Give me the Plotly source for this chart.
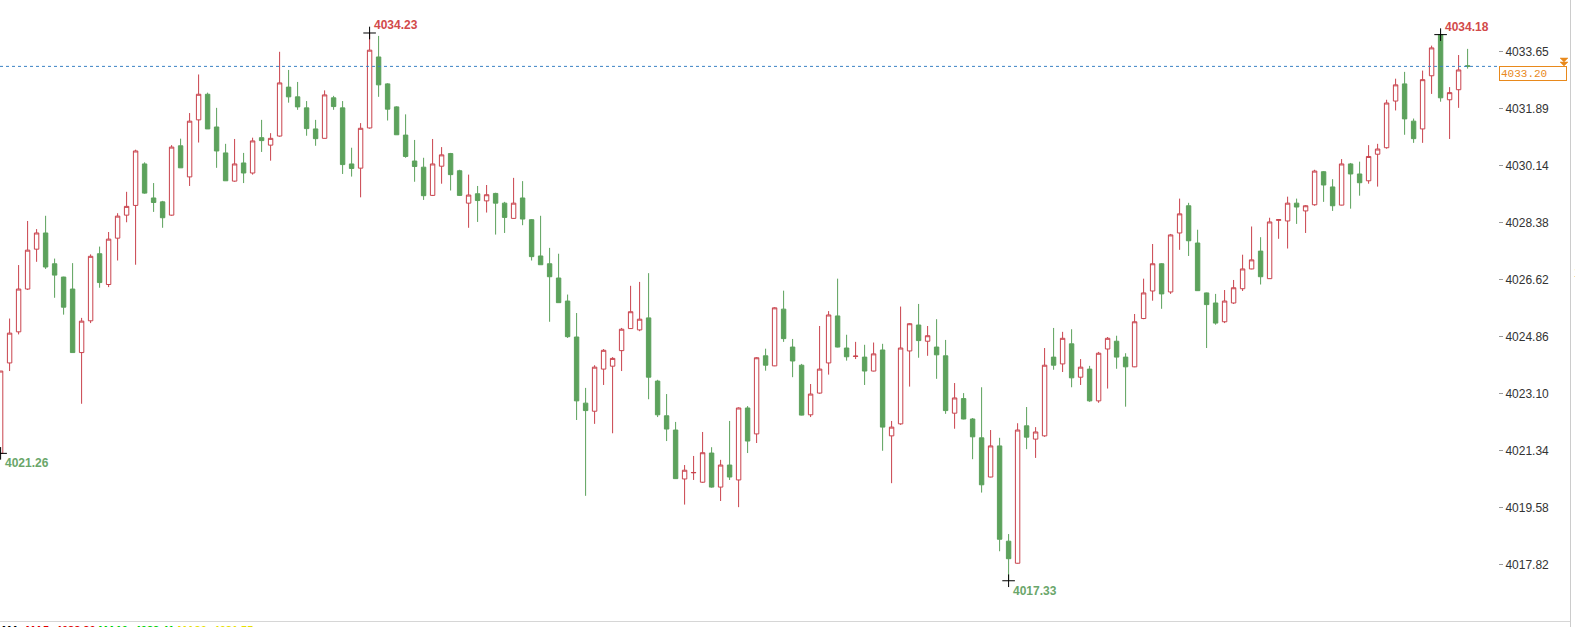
import plotly.graph_objects as go

# ---------------- data ----------------
opens = [4021.26, 4024.05, 4025.01, 4026.33, 4027.56, 4028.06, 4027.11, 4026.70, 4026.33, 4024.37,
         4025.35, 4027.42, 4026.47, 4027.90, 4028.61, 4028.91, 4030.19, 4029.14, 4029.02, 4028.61,
         4030.75, 4029.79, 4031.55, 4032.34, 4031.33, 4030.53, 4029.66, 4030.22, 4029.91, 4031.00,
         4030.77, 4031.05, 4032.56, 4032.26, 4031.92, 4031.27, 4030.98, 4032.23, 4031.92, 4030.19,
         4030.06, 4031.30, 4033.49, 4032.66, 4031.95, 4031.08, 4030.28, 4030.09, 4029.22, 4030.12,
         4030.51, 4029.98, 4028.98, 4029.27, 4029.05, 4029.28, 4028.98, 4028.51, 4029.14, 4028.47,
         4027.35, 4027.11, 4026.67, 4025.96, 4024.85, 4022.81, 4022.56, 4023.86, 4023.95, 4024.43,
         4025.11, 4025.07, 4025.44, 4023.49, 4022.42, 4021.98, 4020.47, 4020.66, 4020.37, 4021.27,
         4020.22, 4020.90, 4020.44, 4022.66, 4021.86, 4024.27, 4023.96, 4025.71, 4024.54, 4023.98,
         4022.45, 4023.12, 4024.05, 4025.50, 4024.51, 4024.25, 4024.23, 4023.80, 4024.45, 4021.80,
         4022.17, 4024.42, 4025.22, 4024.72, 4024.54, 4024.27, 4022.50, 4022.95, 4022.32, 4021.74,
         4020.53, 4021.49, 4018.55, 4017.87, 4022.11, 4021.70, 4021.80, 4024.23, 4024.02, 4024.64,
         4023.61, 4023.86, 4022.88, 4024.48, 4024.72, 4024.23, 4023.93, 4025.42, 4026.27, 4027.11,
         4026.24, 4028.06, 4028.90, 4027.75, 4026.21, 4025.90, 4025.32, 4025.90, 4026.34, 4026.95,
         4027.50, 4026.65, 4028.45, 4028.43, 4028.98, 4028.74, 4028.93, 4029.95, 4029.48, 4028.92,
         4030.19, 4029.88, 4029.67, 4030.49, 4030.69, 4032.13, 4032.66, 4031.51, 4031.27, 4032.91,
         4034.18, 4032.17, 4032.48, 4033.22]
highs = [4023.80, 4025.42, 4027.07, 4028.43, 4028.18, 4028.59, 4027.27, 4026.71, 4027.13, 4025.44,
         4027.40, 4027.64, 4028.09, 4028.67, 4029.33, 4030.63, 4030.24, 4029.60, 4029.05, 4030.77,
         4030.97, 4031.76, 4032.95, 4032.39, 4031.92, 4030.81, 4030.96, 4030.53, 4031.00, 4031.55,
         4031.14, 4033.65, 4033.09, 4032.72, 4032.13, 4031.55, 4032.46, 4032.29, 4032.13, 4030.69,
         4031.45, 4034.23, 4034.14, 4032.68, 4031.97, 4031.72, 4030.93, 4030.38, 4030.96, 4030.71,
         4030.53, 4030.01, 4029.86, 4029.51, 4029.54, 4029.30, 4029.02, 4029.76, 4029.66, 4028.49,
         4028.59, 4027.60, 4027.42, 4026.16, 4025.59, 4023.28, 4023.98, 4024.48, 4024.23, 4025.13,
         4026.43, 4026.55, 4026.82, 4023.53, 4023.09, 4022.23, 4020.90, 4021.18, 4021.92, 4021.45,
         4021.06, 4022.26, 4022.68, 4022.72, 4024.23, 4024.49, 4025.77, 4026.28, 4024.79, 4024.02,
         4023.40, 4025.19, 4025.65, 4026.65, 4024.92, 4024.70, 4024.61, 4024.68, 4024.64, 4022.26,
         4025.79, 4025.28, 4025.87, 4025.19, 4025.40, 4024.76, 4023.43, 4023.12, 4022.35, 4023.30,
         4021.98, 4021.74, 4018.77, 4022.19, 4022.69, 4022.07, 4024.51, 4025.13, 4025.01, 4025.09,
         4024.17, 4023.96, 4024.39, 4024.85, 4024.89, 4024.35, 4025.56, 4026.65, 4027.72, 4027.13,
         4028.03, 4029.12, 4028.99, 4028.16, 4026.22, 4026.18, 4026.30, 4026.61, 4027.39, 4028.26,
         4027.93, 4028.53, 4028.49, 4029.18, 4029.12, 4028.92, 4030.01, 4029.97, 4029.72, 4030.34,
         4030.22, 4030.26, 4030.77, 4030.81, 4032.17, 4032.82, 4033.03, 4031.59, 4033.07, 4033.84,
         4034.18, 4032.56, 4033.55, 4033.74]
lows = [4021.26, 4023.80, 4024.93, 4026.30, 4027.17, 4026.95, 4026.06, 4025.54, 4024.37, 4022.79,
        4025.28, 4026.37, 4026.39, 4027.21, 4028.39, 4027.08, 4029.27, 4028.71, 4028.22, 4028.59,
        4030.07, 4029.51, 4030.85, 4031.27, 4030.07, 4029.67, 4029.64, 4029.60, 4029.86, 4030.56,
        4030.29, 4031.03, 4032.08, 4031.86, 4031.06, 4030.75, 4030.98, 4031.86, 4029.88, 4029.80,
        4029.16, 4031.28, 4032.26, 4031.53, 4031.09, 4030.38, 4029.64, 4029.08, 4029.20, 4029.58,
        4029.37, 4029.20, 4028.22, 4028.40, 4028.69, 4028.01, 4028.06, 4028.50, 4028.30, 4027.21,
        4027.08, 4025.32, 4025.91, 4024.82, 4022.29, 4019.95, 4022.17, 4023.37, 4021.88, 4023.80,
        4025.10, 4025.03, 4022.93, 4022.38, 4021.64, 4020.47, 4019.68, 4020.44, 4020.35, 4020.20,
        4019.79, 4020.44, 4019.60, 4021.27, 4021.58, 4023.81, 4023.95, 4024.70, 4023.61, 4022.43,
        4022.38, 4023.10, 4023.69, 4024.53, 4024.12, 4024.17, 4023.37, 4023.79, 4021.34, 4020.34,
        4022.14, 4023.32, 4024.21, 4024.27, 4023.56, 4022.48, 4022.02, 4022.31, 4021.08, 4020.05,
        4020.52, 4018.24, 4017.33, 4017.86, 4021.39, 4021.12, 4021.77, 4023.84, 4023.77, 4023.30,
        4023.37, 4022.85, 4022.82, 4023.26, 4023.87, 4022.70, 4023.92, 4025.40, 4025.97, 4025.72,
        4026.18, 4027.54, 4027.35, 4026.27, 4024.51, 4025.23, 4025.28, 4025.87, 4026.27, 4026.94,
        4026.47, 4026.64, 4027.88, 4027.58, 4028.34, 4028.06, 4028.90, 4029.02, 4028.74, 4028.91,
        4028.81, 4029.21, 4029.58, 4029.49, 4030.66, 4031.84, 4031.09, 4030.84, 4030.84, 4032.35,
        4032.11, 4030.96, 4031.92, 4033.13]
closes = [4023.80, 4024.97, 4026.33, 4027.53, 4028.06, 4027.01, 4026.76, 4025.77, 4024.37, 4025.34,
          4027.34, 4026.53, 4027.87, 4028.58, 4028.88, 4030.59, 4029.29, 4029.00, 4028.53, 4030.71,
          4030.07, 4031.51, 4032.34, 4031.27, 4030.59, 4029.67, 4030.19, 4029.91, 4030.90, 4030.91,
          4030.98, 4032.69, 4032.26, 4031.95, 4031.28, 4030.97, 4032.32, 4031.96, 4030.17, 4030.05,
          4031.29, 4033.70, 4032.63, 4031.88, 4031.09, 4030.42, 4030.11, 4029.21, 4030.19, 4030.47,
          4029.86, 4029.22, 4029.23, 4029.06, 4029.24, 4028.98, 4028.54, 4028.98, 4028.49, 4027.33,
          4027.08, 4026.71, 4025.91, 4024.86, 4022.88, 4022.58, 4023.92, 4024.44, 4024.19, 4025.09,
          4025.63, 4025.40, 4023.61, 4022.45, 4022.01, 4020.48, 4020.74, 4020.67, 4021.28, 4020.22,
          4020.90, 4020.53, 4022.66, 4021.64, 4024.21, 4023.98, 4025.75, 4024.80, 4024.11, 4022.44,
          4023.09, 4023.86, 4025.53, 4024.54, 4024.24, 4024.26, 4023.80, 4024.33, 4022.07, 4022.07,
          4024.51, 4025.26, 4024.74, 4024.89, 4024.30, 4022.58, 4022.97, 4022.32, 4021.77, 4020.29,
          4021.49, 4018.61, 4018.01, 4021.98, 4021.76, 4021.92, 4023.98, 4023.98, 4024.81, 4023.59,
          4023.92, 4022.88, 4024.35, 4024.81, 4024.23, 4023.93, 4025.32, 4026.21, 4027.11, 4026.18,
          4028.00, 4028.65, 4027.82, 4026.28, 4025.85, 4025.28, 4025.96, 4026.37, 4026.95, 4027.23,
          4026.71, 4028.40, 4028.47, 4028.98, 4028.86, 4028.90, 4029.97, 4029.54, 4028.90, 4030.19,
          4029.88, 4029.61, 4030.42, 4030.65, 4032.07, 4032.63, 4031.58, 4030.97, 4032.79, 4033.77,
          4032.23, 4032.39, 4033.09, 4033.20]

tick_labels = ["4033.65", "4031.89", "4030.14", "4028.38", "4026.62",
               "4024.86", "4023.10", "4021.34", "4019.58", "4017.82"]
last_price = 4033.20
extreme_idx = [41, 160, 112, 0]
extreme_val = [4034.23, 4034.18, 4017.33, 4021.26]
extreme_kind = ["high", "high", "low", "low"]

# ---------------- styling ----------------
W, H = 1575, 627
PLOT_W, PLOT_H = 1498, 621
RED = "#c9434d"
GREEN = "#5ca25c"
RED_TXT = "#d24a4a"
GREEN_TXT = "#6aa66a"
ORANGE = "#e8891c"

x_idx = list(range(len(opens)))

fig = go.Figure()
fig.add_trace(go.Candlestick(
    x=x_idx, open=opens, high=highs, low=lows, close=closes,
    increasing=dict(line=dict(color=RED, width=1), fillcolor="white"),
    decreasing=dict(line=dict(color=GREEN, width=1), fillcolor=GREEN),
    whiskerwidth=0, showlegend=False, hoverinfo="skip",
))

fig.add_trace(go.Scatter(
    x=extreme_idx, y=extreme_val, mode="markers", cliponaxis=False,
    marker=dict(symbol="cross-thin", size=9, line=dict(color="black", width=1)),
    showlegend=False, hoverinfo="skip",
))

annotations = []
for i, v, kind in zip(extreme_idx, extreme_val, extreme_kind):
    annotations.append(dict(
        x=i, y=v, xref="x", yref="y", text=f"<b>{v:.2f}</b>", showarrow=False,
        xanchor="left", yanchor="bottom" if kind == "high" else "top",
        xshift=2, yshift=-1 if kind == "high" else -1,
        font=dict(family="Liberation Sans, Arial", size=12,
                  color=RED_TXT if kind == "high" else GREEN_TXT),
    ))

# price box
annotations.append(dict(
    x=1, xref="paper", y=last_price, yref="y", xanchor="left", yanchor="top",
    xshift=1, text=f"{last_price:.2f}", showarrow=False, align="left",
    width=64, height=11, borderpad=1, bordercolor=ORANGE, borderwidth=1, bgcolor="white",
    font=dict(family="Liberation Mono, DejaVu Sans Mono, monospace", size=11, color=ORANGE),
))


def px(xp):
    return xp / PLOT_W


def py(yp):
    return 1 - yp / PLOT_H


# partial right panel text
annotations.append(dict(x=px(1572), y=py(247), xref="paper", yref="paper", text="日",
                        showarrow=False, xanchor="left", yanchor="middle",
                        font=dict(family="Noto Sans CJK SC", size=12, color="#333")))
annotations.append(dict(x=px(1572), y=py(273), xref="paper", yref="paper", text="1",
                        showarrow=False, xanchor="left", yanchor="middle",
                        font=dict(family="Liberation Sans", size=12, color="#333")))
# clipped legend line at the bottom
annotations.append(dict(
    x=0, y=py(622), xref="paper", yref="paper", xanchor="left", yanchor="top", showarrow=False,
    text=("<b><span style='color:#000'>MA: </span><span style='color:#e00000'>MA5: 4033.20 </span>"
          "<span style='color:#00d000'>MA10: 4032.41 </span><span style='color:#e8e000'>MA20: 4031.55</span></b>"),
    font=dict(family="Liberation Sans", size=11),
))

shapes = [
    dict(type="line", xref="paper", yref="y", x0=0, x1=1, y0=last_price, y1=last_price,
         line=dict(color="#3b82c4", width=1, dash="3px,3px")),
    dict(type="line", xref="paper", yref="paper", x0=0, x1=px(1571), y0=py(621.5), y1=py(621.5),
         line=dict(color="#d6d6d6", width=1)),
    dict(type="line", xref="paper", yref="paper", x0=px(1570.5), x1=px(1570.5), y0=py(0), y1=py(627),
         line=dict(color="#cccccc", width=1)),
    # small orange double-triangle marker
    dict(type="path", xref="paper", yref="paper",
         path=f"M {px(1560)} {py(58)} L {px(1568)} {py(58)} L {px(1564)} {py(62)} Z",
         fillcolor=ORANGE, line=dict(color=ORANGE, width=0.5)),
    dict(type="path", xref="paper", yref="paper",
         path=f"M {px(1560)} {py(62)} L {px(1568)} {py(62)} L {px(1564)} {py(66)} Z",
         fillcolor=ORANGE, line=dict(color=ORANGE, width=0.5)),
]

y_top = 4035.248
y_bot = 4016.088

fig.update_layout(
    width=W, height=H,
    margin=dict(l=0, r=W - PLOT_W, t=0, b=H - PLOT_H, pad=0),
    paper_bgcolor="white", plot_bgcolor="white",
    xaxis=dict(range=[-0.067, -0.067 + PLOT_W / 9.0], visible=False, showgrid=False,
               rangeslider=dict(visible=False), fixedrange=True),
    yaxis=dict(range=[y_bot, y_top], side="right", showgrid=False, zeroline=False, showline=False,
               tickmode="array", tickvals=[float(t) for t in tick_labels], ticktext=tick_labels,
               ticks="outside", ticklen=4, tickcolor="#9a9a9a", tickwidth=1,
               tickfont=dict(family="Liberation Sans, Arial", size=12, color="#333333"),
               fixedrange=True),
    annotations=annotations,
    shapes=shapes,
    showlegend=False,
)

fig.write_html("out.html")
